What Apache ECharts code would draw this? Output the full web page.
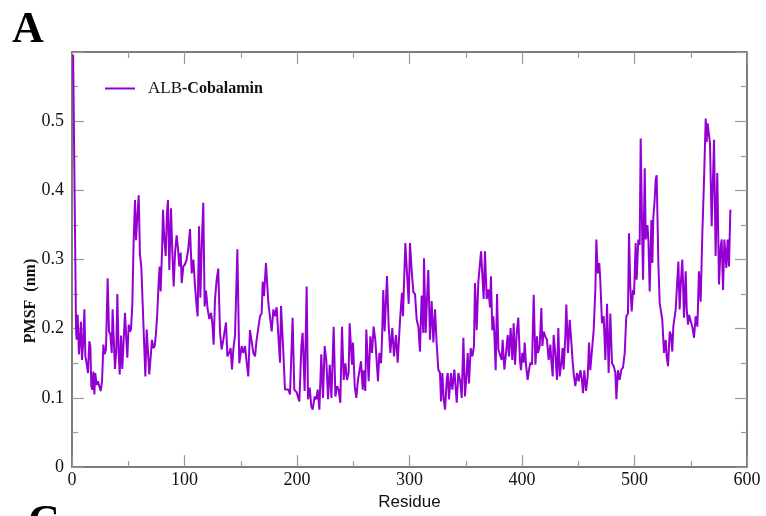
<!DOCTYPE html>
<html>
<head>
<meta charset="utf-8">
<script src="https://cdn.jsdelivr.net/npm/echarts@6/dist/echarts.min.js"></script>
<style>
html,body{margin:0;padding:0;background:#fff;}
#chart{width:766px;height:516px;}
</style>
</head>
<body>
<div id="chart"></div>
<script>
// Residue positions (x) and RMSF values (nm)
const residues = [
1,2.7,3.6,4.1,5.0,6.2,7.1,8.0,8.9,10.1,11.0,11.9,13.0,14.2,15.4,16.3,17.2,18.1,19.0,19.9,20.7,21.9,23.1,24.3,25.5,26.7,27.9,29.0,30.2,31.7,32.9,34.1,35.3,36.1,37.0,38.2,39.4,40.3,41.5,42.4,43.6,44.7,45.9,47.1,48.3,49.2,50.4,51.6,52.4,53.6,54.8,56.0,56.9,58.1,59.3,60.4,61.6,62.8,64.0,65.2,66.4,67.6,68.7,69.9,71.1,72.3,73.5,74.7,75.8,77.0,77.9,78.8,80.0,80.9,82.1,83.3,84.4,85.3,86.5,88.0,89.2,90.4,91.6,93.0,94.2,95.4,96.6,97.5,99.0,
100.4,101.9,103.4,104.9,106.4,107.9,109.3,110.8,111.7,112.9,114.1,115.3,116.7,117.9,119.1,120.6,122.1,123.6,124.7,125.9,127.1,128.6,130.0,131.6,133.0,134.5,136.0,136.9,138.1,139.6,141.0,142.2,143.4,144.9,147.0,148.7,150.8,152.3,153.8,155.3,156.7,158.2,159.7,161.2,162.7,164.1,165.6,167.1,168.6,169.5,170.7,172.4,174.5,176.0,177.5,179.0,180.4,181.9,183.4,184.9,185.8,187.9,189.3,190.8,192.3,193.8,196.1,197.6,199.7,
202.1,203.9,205.0,206.8,208.6,209.8,211.3,212.7,213.9,215.7,217.2,218.4,219.9,221.6,223.1,224.6,226.1,227.6,229.1,230.6,232.6,234.1,235.6,237.0,238.5,240.0,241.5,243.0,244.4,245.9,246.8,248.9,249.8,251.3,252.7,254.2,255.7,256.9,258.4,259.3,260.7,261.6,263.7,265.2,266.7,268.1,269.6,272.0,273.2,274.7,275.6,276.7,277.9,280.0,281.5,283.0,284.7,286.2,288.0,289.5,291.6,293.3,294.2,296.3,297.8,299.3,
300.4,301.9,303.4,304.9,306.4,307.9,309.3,310.8,312.3,312.9,314.4,315.6,316.7,318.2,319.7,321.2,322.7,324.1,325.6,327.1,328.0,329.2,330.4,331.6,333.1,334.0,335.1,336.9,338.1,339.9,341.1,342.0,343.4,344.9,346.4,347.9,349.3,350.8,351.7,352.9,354.4,355.9,357.3,358.2,359.7,361.2,362.7,363.6,364.7,365.9,367.1,368.6,370.1,371.6,372.4,373.6,374.5,375.4,376.6,377.8,379.0,380.4,381.9,382.8,384.3,385.8,387.3,388.4,389.9,391.4,392.6,393.8,395.3,396.7,398.2,399.1,
400.3,401.5,402.4,403.6,405.0,406.2,407.4,408.9,410.4,411.9,413.3,414.2,415.7,417.2,418.1,419.3,420.7,422.2,423.7,425.2,426.1,427.3,428.1,429.6,431.1,432.3,433.5,435.0,436.1,437.0,438.5,439.4,440.9,442.4,443.9,445.0,445.9,447.4,448.9,450.4,451.9,453.3,454.2,455.4,456.9,458.4,459.6,460.7,462.2,463.7,465.2,466.1,467.3,468.7,469.6,471.1,472.6,474.1,475.6,477.0,478.5,480.0,481.5,483.0,483.9,485.3,486.8,488.3,489.8,491.3,492.7,494.2,495.1,496.3,497.5,498.7,499.6,
501.0,501.9,503.4,504.6,505.5,507.0,507.6,509.1,510.0,511.5,512.4,513.5,515.0,515.9,516.7,517.9,518.8,519.7,521.2,522.4,523.9,524.7,526.2,527.7,528.6,529.8,531.3,532.4,533.6,534.5,536.6,538.1,539.0,540.1,541.0,542.5,544.0,545.5,546.4,547.6,548.4,549.9,551.4,552.9,554.4,555.9,557.3,558.8,560.3,561.8,563.3,564.1,565.0,566.2,567.1,568.6,570.7,572.1,573.6,575.1,576.6,577.5,578.7,579.9,581.6,582.8,584.0,585.2
];
const rmsf = [
0.596,0.596,0.199,0.184,0.22,0.163,0.184,0.21,0.155,0.184,0.228,0.16,0.15,0.136,0.182,0.175,0.117,0.112,0.138,0.105,0.136,0.119,0.124,0.122,0.110,0.124,0.177,0.163,0.17,0.273,0.196,0.192,0.165,0.228,0.19,0.142,0.17,0.25,0.165,0.134,0.19,0.142,0.142,0.223,0.184,0.158,0.206,0.196,0.199,0.233,0.328,0.386,0.328,0.362,0.393,0.307,0.29,0.237,0.184,0.131,0.199,0.165,0.134,0.136,0.184,0.172,0.175,0.194,0.223,0.266,0.29,0.254,0.31,0.372,0.328,0.305,0.367,0.386,0.285,0.374,0.31,0.261,0.31,0.335,0.316,0.29,0.31,0.266,0.29,
0.293,0.30,0.316,0.344,0.28,0.30,0.263,0.232,0.218,0.348,0.245,0.32,0.382,0.232,0.255,0.228,0.214,0.223,0.209,0.177,0.242,0.271,0.287,0.194,0.17,0.184,0.182,0.209,0.16,0.165,0.172,0.141,0.17,0.19,0.315,0.15,0.175,0.165,0.175,0.151,0.131,0.198,0.198,0.165,0.16,0.184,0.184,0.218,0.222,0.268,0.247,0.295,0.238,0.236,0.196,0.228,0.218,0.231,0.19,0.151,0.233,0.165,0.112,0.114,0.112,0.105,0.216,0.112,0.108,
0.095,0.175,0.194,0.11,0.261,0.098,0.115,0.088,0.083,0.102,0.098,0.112,0.083,0.163,0.1,0.175,0.153,0.098,0.148,0.1,0.203,0.102,0.117,0.112,0.093,0.203,0.126,0.15,0.126,0.136,0.208,0.148,0.18,0.117,0.1,0.126,0.126,0.153,0.112,0.14,0.11,0.199,0.124,0.189,0.165,0.203,0.184,0.124,0.165,0.15,0.186,0.256,0.196,0.276,0.203,0.165,0.201,0.16,0.191,0.151,0.213,0.252,0.218,0.324,0.326,0.236,
0.324,0.285,0.253,0.25,0.213,0.203,0.167,0.248,0.194,0.302,0.194,0.245,0.285,0.184,0.24,0.18,0.228,0.18,0.141,0.136,0.095,0.136,0.098,0.083,0.126,0.136,0.098,0.136,0.112,0.141,0.112,0.093,0.136,0.126,0.1,0.187,0.102,0.136,0.165,0.121,0.172,0.16,0.175,0.266,0.198,0.268,0.27,0.312,0.312,0.243,0.312,0.243,0.257,0.231,0.276,0.198,0.218,0.194,0.14,0.25,0.17,0.17,0.155,0.184,0.141,0.165,0.191,0.16,0.201,0.155,0.208,0.148,0.194,0.216,0.153,0.14,
0.165,0.151,0.18,0.148,0.126,0.14,0.151,0.148,0.249,0.148,0.189,0.165,0.175,0.23,0.175,0.196,0.189,0.184,0.155,0.177,0.153,0.131,0.191,0.165,0.126,0.201,0.131,0.151,0.172,0.141,0.189,0.235,0.165,0.213,0.18,0.153,0.136,0.117,0.136,0.124,0.14,0.126,0.107,0.14,0.11,0.131,0.18,0.14,0.141,0.198,0.256,0.329,0.28,0.295,0.27,0.208,0.218,0.155,0.236,0.136,0.222,0.15,0.146,0.136,0.098,0.14,0.126,0.141,0.144,0.165,0.218,0.222,0.338,0.26,0.225,0.256,0.249,
0.324,0.271,0.329,0.321,0.475,0.319,0.271,0.432,0.329,0.35,0.326,0.254,0.357,0.295,0.36,0.386,0.415,0.422,0.295,0.237,0.235,0.213,0.165,0.184,0.16,0.146,0.196,0.191,0.167,0.203,0.228,0.23,0.297,0.228,0.261,0.3,0.216,0.283,0.228,0.206,0.22,0.22,0.203,0.187,0.218,0.203,0.283,0.239,0.338,0.415,0.504,0.47,0.497,0.495,0.468,0.348,0.473,0.305,0.425,0.264,0.319,0.329,0.256,0.329,0.288,0.329,0.29,0.372
];
const seriesName = 'ALB-Cobalamin';
const xTicks = [0, 100, 200, 300, 400, 500, 600];
const yTicks = [0, 0.1, 0.2, 0.3, 0.4, 0.5];

const points = residues.map((r, i) => [r, rmsf[i]]);
const chart = echarts.init(document.getElementById('chart'), null, {renderer: 'canvas', width: 766, height: 516});

const serif = 'Liberation Serif, Times New Roman, serif';
const axisLineStyle = {color: '#505050', width: 1.5};
const tickStyle = {color: '#999999', width: 1.2};

function baseX(pos, labels) {
  return {
    type: 'value', position: pos, min: 0, max: 600, interval: 100,
    axisLine: {show: true, onZero: false, lineStyle: axisLineStyle},
    axisTick: {show: true, inside: true, length: 12, lineStyle: tickStyle},
    minorTick: {show: true, splitNumber: 2, length: 6, lineStyle: tickStyle},
    splitLine: {show: false},
    axisLabel: {show: labels, fontFamily: serif, fontSize: 18, color: '#111', margin: 4,
      formatter: v => xTicks.includes(v) ? String(v) : ''}
  };
}
function baseY(pos, labels) {
  return {
    type: 'value', position: pos, min: 0, max: 0.6, interval: 0.1,
    axisLine: {show: true, onZero: false, lineStyle: axisLineStyle},
    axisTick: {show: true, inside: true, length: 12, lineStyle: tickStyle},
    minorTick: {show: true, splitNumber: 2, length: 6, lineStyle: tickStyle},
    splitLine: {show: false},
    axisLabel: {show: labels, fontFamily: serif, fontSize: 18, color: '#111', margin: 8,
      formatter: v => {
        const t = yTicks.find(y => Math.abs(y - v) < 1e-9);
        if (t === undefined) return '';
        return t === 0 ? '0' : t.toFixed(1);
      }}
  };
}

chart.setOption({
  animation: false,
  backgroundColor: '#ffffff',
  grid: {left: 72, right: 19, top: 52, bottom: 48, containLabel: false},
  xAxis: [
    Object.assign(baseX('bottom', true), {name: 'Residue', nameLocation: 'middle', nameGap: 24,
      nameTextStyle: {fontFamily: 'Liberation Sans, Arial, sans-serif', fontSize: 17, color: '#111'}}),
    baseX('top', false)
  ],
  yAxis: [baseY('left', true), baseY('right', false)],
  legend: {
    show: true, left: 100, top: 75, itemWidth: 30, itemHeight: 2, itemGap: 0,
    data: [{name: seriesName, icon: 'rect'}],
    formatter: () => '{a|ALB}{b|-Cobalamin}',
    textStyle: {
      padding: [0, 0, 0, 8],
      rich: {
        a: {fontFamily: serif, fontSize: 17, color: '#111'},
        b: {fontFamily: serif, fontSize: 16, fontWeight: 'bold', color: '#111'}
      }
    }
  },
  graphic: [
    {type: 'text', left: 12, top: 9, style: {text: 'A', font: 'bold 44px ' + serif, fill: '#000'}},
    {type: 'text', left: 28, top: 502, style: {text: 'C', font: 'bold 44px ' + serif, fill: '#000'}},
    {type: 'text', x: 31, y: 301, rotation: Math.PI / 2,
      style: {text: 'PMSF  (nm)', font: 'bold 16px ' + serif, fill: '#111', align: 'center', verticalAlign: 'middle'}}
  ],
  series: [{
    name: seriesName, type: 'line', xAxisIndex: 0, yAxisIndex: 0,
    data: points, symbol: 'none', showSymbol: false,
    lineStyle: {color: '#9400D3', width: 2},
    itemStyle: {color: '#9400D3'}
  }]
});
</script>
</body>
</html>
